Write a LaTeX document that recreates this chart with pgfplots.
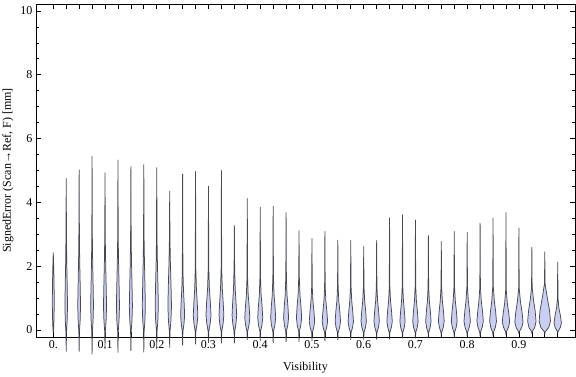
\documentclass[border=0pt]{standalone}
\usepackage{fontspec}
\setmainfont{Liberation Serif}
\usepackage{pgfplots}
\pgfplotsset{compat=1.18}
\definecolor{vfill}{RGB}{200,207,243}
\definecolor{vedge}{RGB}{45,45,55}
\pgfplotsset{vstyle/.style={fill=vfill, draw=vedge, draw opacity=0.85, line width=0.75bp, line join=round, mark=none}}
% one violin: centre, then rows "halfwidth(px) y"
\newcommand{\violin}[2]{\addplot[vstyle] table[x expr=#1+\thisrow{w}/517.6, y=y, row sep=\\] {w y\\ #2};}
% shorthand writers: c, bottom, peak halfwidth, w1, w3, w4, top
\newcommand{\violinB}[7]{\violin{#1}{0 #2\\0.3 -0.05\\#4 0.3\\#3 0.75\\#5 1.4\\#6 2.1\\0.3 2.8\\0 #7\\-0.3 2.8\\-#6 2.1\\-#5 1.4\\-#3 0.75\\-#4 0.3\\-0.3 -0.05\\0 #2\\}}
\newcommand{\violinC}[7]{\violin{#1}{0 #2\\0.3 -0.05\\#4 0.2\\#3 0.47\\#5 0.85\\#6 1.3\\0.3 1.9\\0 #7\\-0.3 1.9\\-#6 1.3\\-#5 0.85\\-#3 0.47\\-#4 0.2\\-0.3 -0.05\\0 #2\\}}
\newcommand{\violinCp}[7]{\violin{#1}{0 #2\\0.3 -0.05\\#4 0.15\\#3 0.38\\#5 0.72\\#6 1.1\\0.3 1.65\\0 #7\\-0.3 1.65\\-#6 1.1\\-#5 0.72\\-#3 0.38\\-#4 0.15\\-0.3 -0.05\\0 #2\\}}
\newcommand{\violinD}[7]{\violin{#1}{0 #2\\0.3 -0.08\\#4 0.08\\#3 0.27\\#5 0.58\\#6 0.92\\0.3 1.35\\0 #7\\-0.3 1.35\\-#6 0.92\\-#5 0.58\\-#3 0.27\\-#4 0.08\\-0.3 -0.08\\0 #2\\}}
\begin{document}
\begin{tikzpicture}
\useasboundingbox (-36bp,-40bp) rectangle (540bp,337bp);
\begin{axis}[
  at={(0,0)}, anchor=south west,
  scale only axis, width=539bp, height=333bp,
  xmin=-0.0334, xmax=1.0084, ymin=-0.219, ymax=10.219,
  clip=false,
  axis line style={line width=0.7bp, black},
  every tick/.style={black, line width=0.7bp},
  major tick length=5bp, minor tick length=3bp,
  tick align=inside, tick pos=both, ticklabel pos=left,
  xtick={0,0.1,0.2,0.3,0.4,0.5,0.6,0.7,0.8,0.9},
  xticklabels={0.,0.1,0.2,0.3,0.4,0.5,0.6,0.7,0.8,0.9},
  extra x ticks={0.025,0.05,0.075,0.125,0.15,0.175,0.225,0.25,0.275,0.325,0.35,0.375,0.425,0.45,0.475,0.525,0.55,0.575,0.625,0.65,0.675,0.725,0.75,0.775,0.825,0.85,0.875,0.925,0.95,0.975},
  extra x tick labels={},
  ytick={0,2,4,6,8,10}, yticklabels={0,2,4,6,8,10},
  minor y tick num=3,
  tick label style={font=\fontsize{12bp}{14bp}\selectfont, text=black},
  label style={font=\fontsize{12bp}{14bp}\selectfont},
  xlabel={Visibility},
  ylabel={SignedError (Scan→Ref, F) [mm]},
  xlabel style={at={(axis description cs:0.5,-0.1021)}, anchor=base},
  ylabel style={at={(axis description cs:-0.0464,0.5)}, anchor=base, rotate=0},
]
\violin{0}{0 -0.08\\0.3 0\\0.7 0.35\\1.0 0.85\\0.8 1.4\\0.5 1.9\\0.3 2.15\\0 2.42\\-0.3 2.15\\-0.5 1.9\\-0.8 1.4\\-1.0 0.85\\-0.7 0.35\\-0.3 0\\0 -0.08\\}
\violinB{0.025}{-0.68}{1.3}{0.95}{1.0}{0.55}{4.75}
\violinB{0.05}{-0.68}{1.4}{1.0}{1.05}{0.6}{5.02}
\violinB{0.075}{-0.76}{1.4}{1.0}{1.05}{0.6}{5.45}
\violinB{0.1}{-0.60}{1.55}{1.1}{1.15}{0.65}{4.93}
\violinB{0.125}{-0.71}{1.55}{1.1}{1.15}{0.65}{5.33}
\violinB{0.15}{-0.65}{1.55}{1.1}{1.15}{0.65}{5.12}
\violinB{0.175}{-0.70}{1.55}{1.1}{1.15}{0.65}{5.18}
\violinB{0.2}{-0.60}{1.6}{1.1}{1.2}{0.65}{5.09}
\violinB{0.225}{-0.55}{1.8}{1.25}{1.35}{0.7}{4.35}
\violinC{0.25}{-0.48}{2.0}{1.4}{1.5}{0.8}{4.89}
\violinC{0.275}{-0.45}{2.3}{1.6}{1.7}{0.85}{4.97}
\violinC{0.3}{-0.40}{2.5}{1.7}{1.9}{0.9}{4.51}
\violinC{0.325}{-0.42}{2.4}{1.7}{1.8}{0.9}{5.00}
\violinC{0.35}{-0.42}{2.3}{1.6}{1.7}{0.85}{3.28}
\violinCp{0.375}{-0.31}{2.5}{1.7}{1.9}{0.9}{4.12}
\violinCp{0.4}{-0.35}{2.5}{1.7}{1.9}{0.9}{3.85}
\violinCp{0.425}{-0.42}{2.5}{1.7}{1.9}{0.9}{3.88}
\violinCp{0.45}{-0.38}{2.5}{1.7}{1.9}{0.9}{3.68}
\violinCp{0.475}{-0.37}{2.6}{1.8}{2.0}{0.95}{3.11}
\violinD{0.5}{-0.35}{2.7}{1.8}{2.0}{0.95}{2.87}
\violinD{0.525}{-0.35}{2.7}{1.8}{2.0}{0.95}{3.09}
\violinD{0.55}{-0.32}{2.7}{1.8}{2.0}{0.95}{2.82}
\violinD{0.575}{-0.32}{2.7}{1.8}{2.0}{0.95}{2.81}
\violinD{0.6}{-0.30}{2.7}{1.8}{2.0}{0.95}{2.62}
\violinD{0.625}{-0.30}{2.7}{1.8}{2.0}{0.95}{2.81}
\violinD{0.65}{-0.29}{2.7}{1.8}{2.0}{0.95}{3.52}
\violinD{0.675}{-0.26}{2.6}{1.8}{1.9}{0.95}{3.61}
\violinD{0.7}{-0.26}{2.7}{1.8}{2.0}{0.95}{3.45}
\violinD{0.725}{-0.24}{2.7}{1.8}{2.0}{0.95}{2.96}
\violinD{0.75}{-0.22}{2.9}{1.9}{2.2}{1.05}{2.78}
\violinD{0.775}{-0.22}{2.9}{1.9}{2.2}{1.05}{3.09}
\violinD{0.8}{-0.19}{3.2}{2.1}{2.4}{1.15}{3.06}
\violinD{0.825}{-0.20}{3.2}{2.1}{2.4}{1.15}{3.35}
\violinD{0.85}{-0.19}{3.4}{2.3}{2.6}{1.25}{3.51}
\violin{0.875}{0 -0.16\\0.3 -0.06\\2.4 0.08\\3.7 0.25\\2.9 0.5\\1.3 0.85\\0.3 1.25\\0 3.68\\-0.3 1.25\\-1.3 0.85\\-2.9 0.5\\-3.7 0.25\\-2.4 0.08\\-0.3 -0.06\\0 -0.16\\}
\violin{0.9}{0 -0.13\\0.3 -0.06\\2.8 0.08\\4.1 0.25\\3.2 0.55\\1.5 0.9\\0.3 1.3\\0 3.20\\-0.3 1.3\\-1.5 0.9\\-3.2 0.55\\-4.1 0.25\\-2.8 0.08\\-0.3 -0.06\\0 -0.13\\}
\violin{0.925}{0 -0.11\\0.3 -0.05\\2.9 0.08\\4.2 0.27\\3.3 0.6\\1.6 0.95\\0.3 1.35\\0 2.59\\-0.3 1.35\\-1.6 0.95\\-3.3 0.6\\-4.2 0.27\\-2.9 0.08\\-0.3 -0.05\\0 -0.11\\}
\violin{0.95}{0 -0.13\\0.3 -0.06\\4.0 0.08\\5.7 0.28\\4.7 0.62\\2.3 1.05\\0.3 1.45\\0 2.45\\-0.3 1.45\\-2.3 1.05\\-4.7 0.62\\-5.7 0.28\\-4.0 0.08\\-0.3 -0.06\\0 -0.13\\}
\violin{0.975}{0 -0.11\\0.3 -0.05\\2.6 0.08\\3.7 0.22\\2.7 0.45\\1.1 0.7\\0.3 1.0\\0 2.13\\-0.3 1.0\\-1.1 0.7\\-2.7 0.45\\-3.7 0.22\\-2.6 0.08\\-0.3 -0.05\\0 -0.11\\}
\end{axis}
\end{tikzpicture}
\end{document}
